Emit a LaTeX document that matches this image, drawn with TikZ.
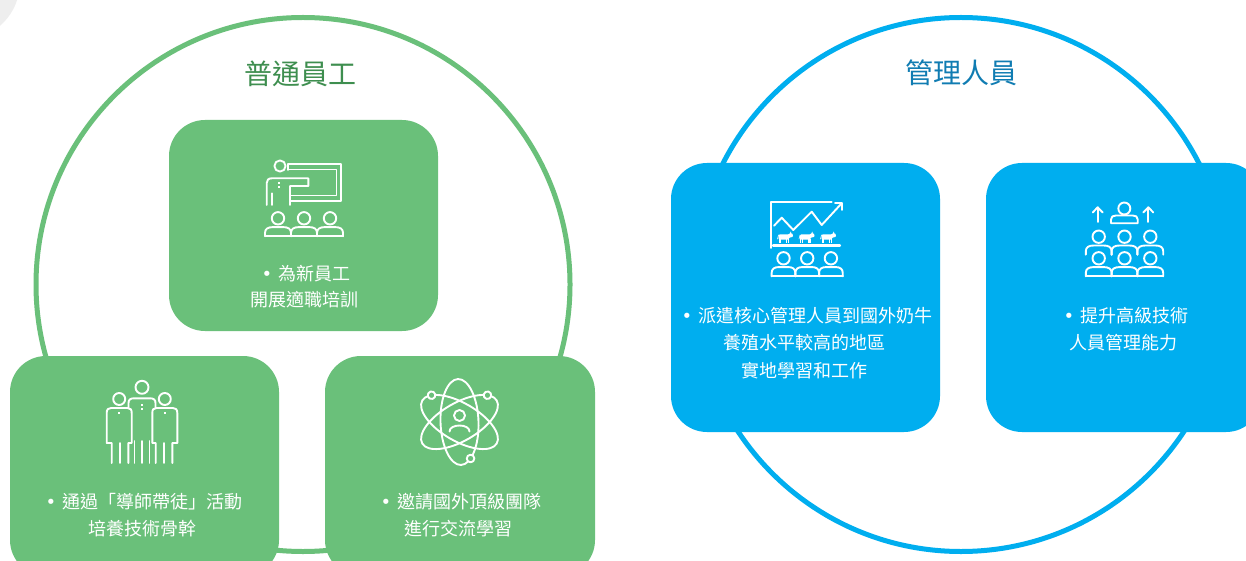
\documentclass[tikz,border=0pt]{standalone}
\usepackage{fontspec}
\setmainfont{Noto Sans CJK TC}
\newfontfamily\bulletfont{DejaVu Sans}
\newcommand\bul{{\bulletfont •}\hspace{6pt}}
\definecolor{cGreen}{RGB}{106,192,122}
\definecolor{cGreenDark}{RGB}{62,142,79}
\definecolor{cBlue}{RGB}{0,174,239}
\definecolor{cBlueDark}{RGB}{16,124,178}
\definecolor{cGray}{RGB}{238,238,238}

% three seated persons: #1 centre x, #2 head y, #3 spacing, #4 head fill
\newcommand\mycrowd[4]{%
  \foreach \k in {-1,0,1}{%
    \pgfmathsetmacro\pc{#1+\k*#3}%
    \draw[icon] ({\pc-#3/2},{#2+18}) -- ({\pc-#3/2},{#2+14.5})
      .. controls ({\pc-#3/2},{#2+10.5}) and ({\pc-#3/2+3},{#2+8.8}) .. ({\pc-5},{#2+8.8})
      -- ({\pc+5},{#2+8.8})
      .. controls ({\pc+#3/2-3},{#2+8.8}) and ({\pc+#3/2},{#2+10.5}) .. ({\pc+#3/2},{#2+14.5})
      -- ({\pc+#3/2},{#2+18});
    \draw[icon, fill=#4] (\pc,#2) circle[radius=6.2];
  }%
}
% small cow facing right: #1 x, #2 y (body centre)
\newcommand\mycow[2]{%
  \begin{scope}[shift={(#1,#2)}]
    \fill[white, rounded corners=1pt] (-6.5,-3) rectangle (4,2.2);
    \fill[white] (3,-3) -- (5.5,-4.5) -- (7.5,-3.5) -- (8,-1.5) -- (7,-0.5) -- (5,0) -- (3,1) -- cycle;
    \fill[white] (5,-4.3) -- (5.6,-6) -- (6.4,-4.4) -- cycle;
    \fill[white] (-6.5,1) rectangle (-5.3,5.5);
    \fill[white] (-4.8,1) rectangle (-3.6,5.5);
    \fill[white] (1.2,1) rectangle (2.4,5.5);
    \fill[white] (2.9,1) rectangle (4.1,5.5);
    \draw[white, line width=0.6pt] (-6.5,-2.5) -- (-7.5,1.5);
  \end{scope}%
}

\begin{document}
\begin{tikzpicture}[x=1pt,y=-1pt, line join=round, line cap=round,
  icon/.style={draw=white, line width=1.9pt},
  greenbox/.style={fill=cGreen, draw=none, rounded corners=36pt, inner sep=0pt},
  bluebox/.style={fill=cBlue, draw=none, rounded corners=36pt, inner sep=0pt},
  titletext/.style={font=\fontsize{28}{28}\selectfont, anchor=base, inner sep=0pt},
  bodytext/.style={text=white, font=\fontsize{18}{18}\selectfont, anchor=base, inner sep=0pt}]

\useasboundingbox (0,0) rectangle (1246,561);
\clip (0,0) rectangle (1246,561);
\fill[white] (0,0) rectangle (1246,561);
\fill[cGray] (-38,-18) circle[radius=58];

% big circles
\draw[cGreen, line width=5pt] (303,284.5) circle[radius=267];
\draw[cBlue, line width=5pt] (961,284.5) circle[radius=267];

% titles
\node[titletext, text=cGreenDark] (titleG) at (300,85) {普通員工};
\node[titletext, text=cBlueDark] (titleB) at (961,84) {管理人員};

% boxes
\node[greenbox, minimum width=269pt, minimum height=211pt] (boxA) at (303.5,225.5) {};
\node[greenbox, minimum width=269pt, minimum height=220pt] (boxB) at (144.5,466) {};
\node[greenbox, minimum width=270pt, minimum height=220pt] (boxC) at (460,466) {};
\node[bluebox, minimum width=269pt, minimum height=269pt] (boxD) at (805.5,297.5) {};
\node[bluebox, minimum width=276pt, minimum height=269pt] (boxE) at (1124,297.5) {};

% texts
\node[bodytext] (a1) at (306,280) {\bul 為新員工};
\node[bodytext] (a2) at (304,306) {開展適職培訓};
\node[bodytext] (b1) at (144,508) {\bul 通過「導師帶徒」活動};
\node[bodytext] (b2) at (142,535.5) {培養技術骨幹};
\node[bodytext] (c1) at (461,508) {\bul 邀請國外頂級團隊};
\node[bodytext] (c2) at (458,535.5) {進行交流學習};
\node[bodytext] (d1) at (807,322) {\bul 派遣核心管理人員到國外奶牛};
\node[bodytext] (d2) at (804.5,349.5) {養殖水平較高的地區};
\node[bodytext] (d3) at (804,377) {實地學習和工作};
\node[bodytext] (e1) at (1126,322) {\bul 提升高級技術};
\node[bodytext] (e2) at (1123,349.5) {人員管理能力};

% ---- icon 1: teacher at board ----
\draw[icon] (280,166) circle[radius=5.6];
\draw[icon] (288.3,170) -- (288.3,164) -- (341,164) -- (341,200.7) -- (290,200.7);
\draw[icon] (288.3,169.5) -- (336.5,169.5) -- (336.5,195.5) -- (290,195.5);
\draw[icon] (266.7,205) -- (266.7,183) .. controls (266.7,180) and (268.5,178.3) .. (271.7,178.3)
  -- (308.3,178.3) -- (308.3,186) -- (290,186) -- (290,205);
\draw[icon] (271.7,193.3) -- (271.7,205);
\fill[white] (278.3,182.3) rectangle (280.3,184.3);
\fill[white] (278.3,186.5) rectangle (280.3,188.5);
\mycrowd{304}{218.3}{26}{cGreen}
\draw[icon] (265,236.3) -- (343,236.3);

% ---- icon 2: three standing persons ----
\draw[icon] (142,387.3) circle[radius=6.5];
\draw[icon] (128.5,408) -- (128.5,403) .. controls (128.5,399.5) and (130.5,398.3) .. (134,398.3)
  -- (150,398.3) .. controls (153.5,398.3) and (155.5,399.5) .. (155.5,403) -- (155.5,408);
\draw[icon] (134.5,441) -- (134.5,463);
\draw[icon] (142,441) -- (142,463);
\draw[icon] (149.5,441) -- (149.5,463);
\fill[white] (141,404) rectangle (143,406);
\fill[white] (141,408) rectangle (143,410);
% left person
\draw[icon] (119.2,399) circle[radius=6];
\draw[icon] (111.7,463) -- (111.7,443) -- (106.7,443) -- (106.7,413)
  .. controls (106.7,409.5) and (108,408) .. (111,408) -- (127.5,408)
  .. controls (130.5,408) and (131.7,409.5) .. (131.7,413) -- (131.7,443) -- (128.3,443) -- (128.3,463);
\draw[icon] (120,443) -- (120,463);
\fill[white] (118.2,412.3) rectangle (120.2,414.3);
% right person
\draw[icon] (164.8,399) circle[radius=6];
\draw[icon] (172.3,463) -- (172.3,443) -- (177.3,443) -- (177.3,413)
  .. controls (177.3,409.5) and (176,408) .. (173,408) -- (156.5,408)
  .. controls (153.5,408) and (152.3,409.5) .. (152.3,413) -- (152.3,443) -- (155.7,443) -- (155.7,463);
\draw[icon] (164,443) -- (164,463);
\fill[white] (163.8,412.3) rectangle (165.8,414.3);

% ---- icon 3: atom with person ----
\begin{scope}[shift={(459.5,422)}]
  \begin{scope}[rotate=30]
    \draw[icon] (0,0) ellipse[x radius=43, y radius=19];
    \draw[icon, fill=cGreen] ({43*cos(-29)},{19*sin(-29)}) circle[radius=3.8];
  \end{scope}
  \begin{scope}[rotate=-30]
    \draw[icon] (0,0) ellipse[x radius=43, y radius=19];
    \draw[icon, fill=cGreen] ({43*cos(-151)},{19*sin(-151)}) circle[radius=3.8];
  \end{scope}
  \begin{scope}[rotate=-88]
    \draw[icon] (0,0) ellipse[x radius=43, y radius=19];
    \draw[icon, fill=cGreen] ({43*cos(-31)},{19*sin(-31)}) circle[radius=3.8];
  \end{scope}
  \draw[icon] (0,-6.5) circle[radius=5.5];
  \draw[icon] (-10,9.5) .. controls (-10,1.5) and (10,1.5) .. (10,9.5);
\end{scope}

% ---- icon 4: chart, cows, audience ----
\draw[icon] (771,248) -- (771,202.3) -- (831.7,202.3);
\draw[icon] (774,225.7) -- (781.7,217.7) -- (793.3,230) -- (811.7,211.7) -- (821.7,225) -- (841.7,203.3);
\draw[icon] (835,203.3) -- (841.7,203.3) -- (841.7,210);
\mycow{785}{237.5}
\mycow{806.5}{237.5}
\mycow{828}{237.5}
\draw[white, line width=2.2pt] (773,245.5) -- (840,245.5);
\mycrowd{807.2}{258.3}{23.7}{cBlue}
\draw[icon] (771.6,276.3) -- (842.8,276.3);

% ---- icon 5: leader and team ----
\draw[icon] (1097.7,222) -- (1097.7,207.5);
\draw[icon] (1092.7,212.5) -- (1097.7,207.3) -- (1102.7,212.5);
\draw[icon] (1148.3,222) -- (1148.3,207.5);
\draw[icon] (1143.3,212.5) -- (1148.3,207.3) -- (1153.3,212.5);
\draw[icon] (1124.3,208.5) circle[radius=6];
\draw[icon] (1111,223.3) -- (1111,219.5) .. controls (1111,216.5) and (1113,215.5) .. (1116,215.5)
  -- (1132.7,215.5) .. controls (1135.7,215.5) and (1137.7,216.5) .. (1137.7,219.5) -- (1137.7,223.3) -- cycle;
\mycrowd{1124.5}{236.7}{25.8}{cBlue}
\mycrowd{1124.5}{258.3}{25.8}{cBlue}
\draw[icon] (1085.8,276.3) -- (1163.2,276.3);

\end{tikzpicture}
\end{document}
